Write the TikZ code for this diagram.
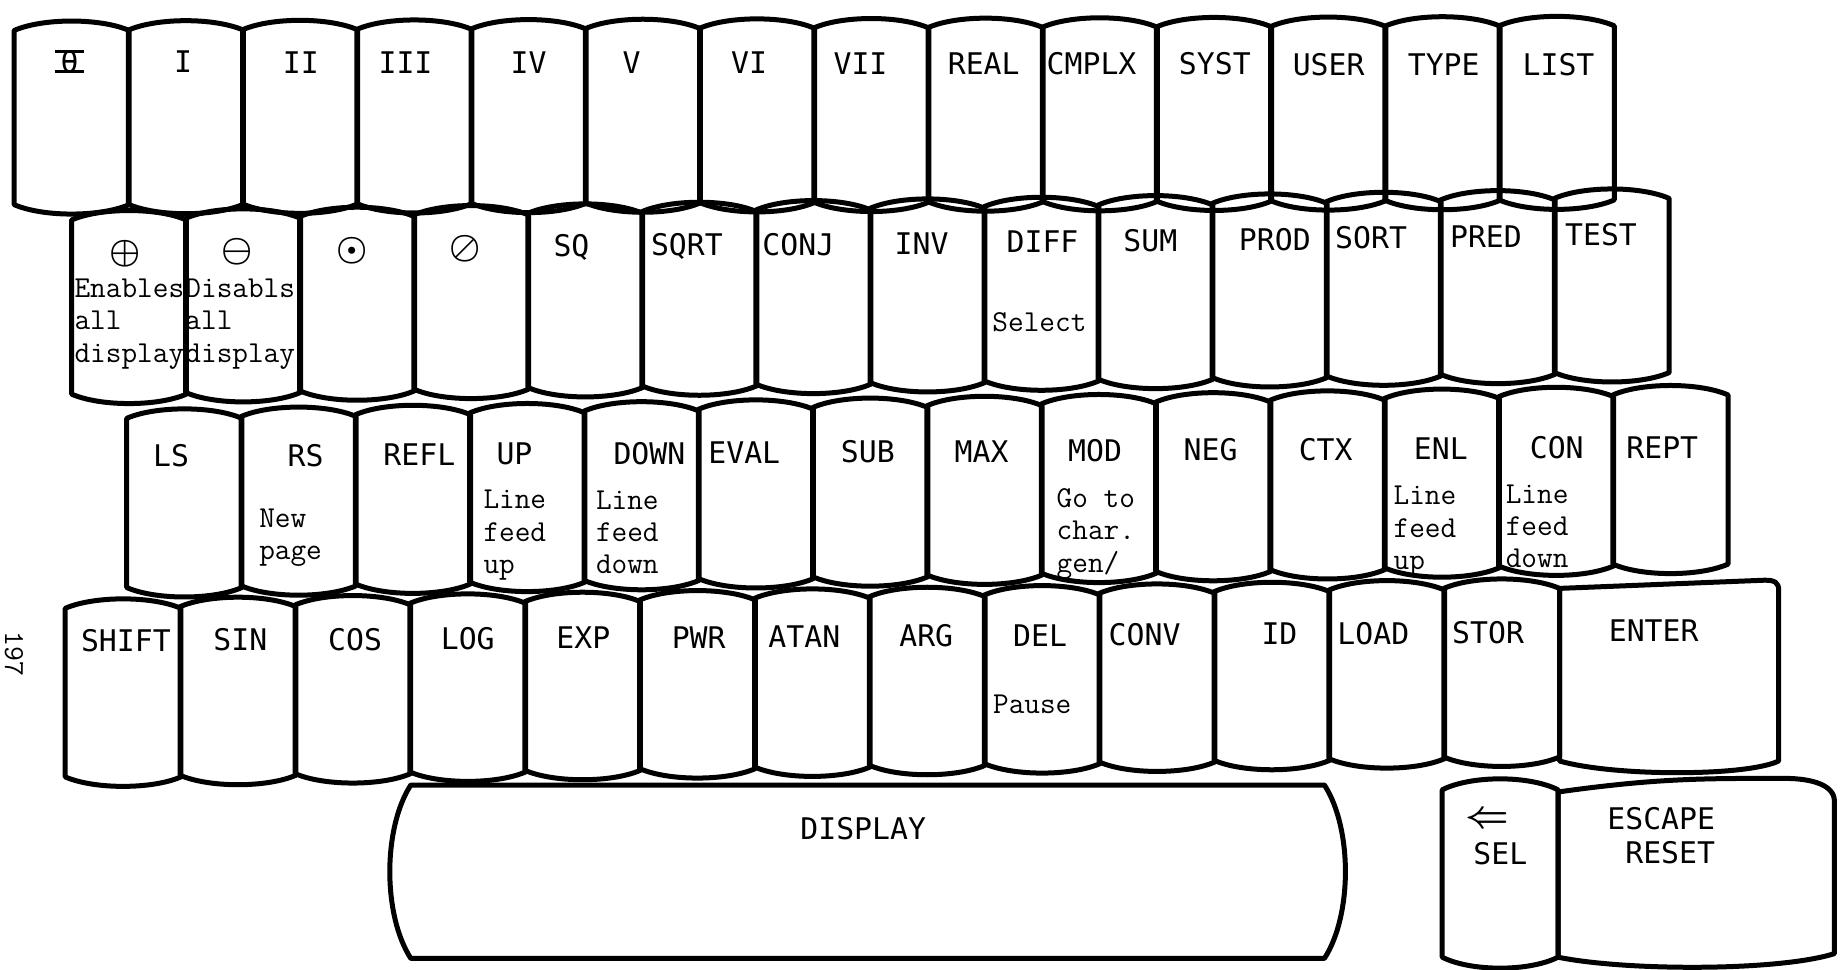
\RequirePackage{fix-cm}
\documentclass[tikz,border=0pt]{standalone}
\usepackage{fontspec}
\newfontfamily\keyfont{DejaVu Sans Mono}
\usetikzlibrary{calc}

% outline of one key: straight sides, top and bottom bowed out
\newcommand{\keyoutline}[2][6.3pt]{%
  \draw[keyline] (#2.north west) -- (#2.south west)
    .. controls ($(#2.south west)!0.25!(#2.south east)+(0,-#1)$)
            and ($(#2.south west)!0.75!(#2.south east)+(0,-#1)$) .. (#2.south east)
    -- (#2.north east)
    .. controls ($(#2.north west)!0.75!(#2.north east)+(0,#1)$)
            and ($(#2.north west)!0.25!(#2.north east)+(0,#1)$) .. cycle;}
% symbol on the first register key
\newcommand{\zerosym}{\ooalign{\hfil θ\hfil\cr
  \rule[-0.02em]{1.0em}{0.1em}\cr\rule[0.66em]{1.0em}{0.1em}}}
% circled operator symbols
\newcommand{\circsym}[1]{{\fontsize{17.5}{18}\selectfont\boldmath$#1$}}

\begin{document}
\begin{tikzpicture}[x=1pt, y=1pt,
  keyline/.style={line width=2.5pt, line join=round},
  keycap/.style={rectangle, inner sep=0pt, anchor=north west},
  rowone/.style={keycap, minimum width=57.12pt, minimum height=86.66pt},
  rowtwo/.style={keycap, minimum width=57.03pt, minimum height=86.66pt},
  rowthree/.style={keycap, minimum width=57.16pt, minimum height=84.2pt},
  rowfour/.style={keycap, minimum width=57.44pt, minimum height=83.9pt},
  keylabel/.style={font=\keyfont\fontsize{14.9}{16.7}\selectfont,
    inner sep=0pt, align=center},
  note/.style={font=\ttfamily\fontsize{15.2}{16.2}\selectfont,
    inner sep=0pt, align=left, anchor=north west}
]
\useasboundingbox (0,0) rectangle (920,484.5);

% row 1
\foreach \lab/\dx [count=\i from 0] in {\zerosym/-1, I/-1.4, II/0.4, III/-4.4,
    IV/0, V/-5.6, VI/-4, VII/-5.4, REAL/-0.9, CMPLX/-4.1, SYST/0.4, USER/0.2,
    TYPE/0.6, LIST/0.9}{
  \node[rowone] (k1-\i) at ({7.04+57.12*\i}, {469.25+0.18*\i}) {};
  \keyoutline{k1-\i}
  \node[keylabel] (t1-\i) at ([xshift=\dx, yshift={-15.6-0.3*\i}]k1-\i.north) {\lab};
}

% row 2
\foreach \lab/\dx [count=\i from 0] in {\circsym\oplus/-2.1, \circsym\ominus/-2.8,
    \circsym\odot/-2.5, \circsym\oslash/-3.2, SQ/-6.9, SQRT/-6.2, CONJ/-7.5, INV/-2.9,
    DIFF/0.5, SUM/-2.6, PROD/2.6, SORT/-6.3, PRED/-5.9, TEST/-5.4}{
  \node[rowtwo] (k2-\i) at ({35.79+57.03*\i}, {374.5+0.83*\i}) {};
  \keyoutline{k2-\i}
  \node[keylabel] (t2-\i) at ([xshift=\dx, yshift={-16.7-0.12*\i}]k2-\i.north) {\lab};
}

% row 3
\foreach \lab/\dx [count=\i from 0] in {LS/-6.6, RS/3.5, REFL/3.2, UP/-6.4,
    DOWN/3.9, EVAL/-5.8, SUB/-1.2, MAX/-1.5, MOD/-1.9, NEG/-1.3, CTX/-0.9,
    ENL/-0.5, CON/0.3, REPT/-4.1}{
  \node[rowthree] (k3-\i) at ({63.37+57.16*\i}, {275.33+0.9*\i}) {};
  \keyoutline{k3-\i}
  \node[keylabel] (t3-\i) at ([xshift=\dx, yshift={-18.8-0.57*\i}]k3-\i.north) {\lab};
}

% row 4
\foreach \lab/\dx [count=\i from 0] in {SHIFT/1.4, SIN/1.2, COS/1.1, LOG/0,
    EXP/0.4, PWR/0.6, ATAN/-4, ARG/-0.5, DEL/-1, CONV/-6.2, ID/3.8,
    LOAD/-6.7, STOR/-6.8}{
  \node[rowfour] (k4-\i) at ({32.62+57.44*\i}, {180.34+0.83*\i}) {};
  \keyoutline{k4-\i}
  \node[keylabel] (t4-\i) at ([xshift=\dx, yshift={-16.2-0.49*\i}]k4-\i.north) {\lab};
}

% ENTER
\node[keycap, minimum width=109.2pt, minimum height=85.9pt] (enter) at (k4-12.north east) {};
\draw[keyline] (enter.north west) -- (enter.south west)
  .. controls ($(enter.south west)!0.25!(enter.south east)+(0,-7.8)$)
          and ($(enter.south west)!0.85!(enter.south east)+(0,-7.8)$) .. (enter.south east)
  -- ([yshift=-1]enter.north east)
  .. controls +(0,4) and +(5,0) .. ([xshift=-7, yshift=4.1]enter.north east)
  -- (enter.north west) -- cycle;
\node[keylabel] (t-enter) at ([xshift=-7.7, yshift=-21.3]enter.north) {ENTER};

% notes under the key names
\node[note] (n-enable) at ([xshift=1.3, yshift=-29.2]k2-0.north west) {Enables\\all\\display};
\node[note] (n-disable) at ([xshift=-0.3, yshift=-30]k2-1.north west) {Disabls\\all\\display};
\node[note] (n-select) at ([xshift=4, yshift=-52.5]k2-8.north west) {Select};
\node[note] (n-newpage) at ([xshift=8.9, yshift=-45.8]k3-1.north west) {New\\page};
\node[note] (n-up) at ([xshift=6.7, yshift=-38.5]k3-3.north west) {Line\\feed\\up};
\node[note] (n-down) at ([xshift=5.8, yshift=-39.5]k3-4.north west) {Line\\feed\\down};
\node[note] (n-chargen) at ([xshift=7.5, yshift=-42]k3-8.north west) {Go to\\char.\\gen/};
\node[note] (n-enlup) at ([xshift=4.5, yshift=-43.7]k3-11.north west) {Line\\feed\\up};
\node[note] (n-condown) at ([xshift=3.4, yshift=-43.7]k3-12.north west) {Line\\feed\\down};
\node[note] (n-pause) at ([xshift=4.2, yshift=-49.9]k4-8.north west) {Pause};

% bottom row: display, SEL, ESCAPE/RESET
\node[keycap, minimum width=456.4pt, minimum height=86.3pt] (display) at (205.4, 92) {};
\draw[keyline] (display.north west) -- (display.north east)
  .. controls ($(display.north east)!0.25!(display.south east)+(14,0)$)
          and ($(display.north east)!0.75!(display.south east)+(14,0)$) .. (display.south east)
  -- (display.south west)
  .. controls ($(display.south west)!0.25!(display.north west)+(-14,0)$)
          and ($(display.south west)!0.75!(display.north west)+(-14,0)$) .. cycle;
\node[keylabel] (t-display) at ([xshift=-2.2, yshift=-21.7]display.north) {DISPLAY};

\node[keycap, minimum width=57.5pt, minimum height=83.3pt] (sel) at (721.1, 89.6) {};
\keyoutline[7.3pt]{sel}
\node[keylabel, font=\fontsize{19}{19}\selectfont\boldmath] (t-arrow) at ([xshift=-6.2, yshift=-15.1]sel.north) {$\Leftarrow$};
\node[keylabel] (t-sel) at ([xshift=0.1, yshift=-31.8]sel.north) {SEL};

\node[keycap, minimum width=137.8pt, minimum height=82.2pt] (escape) at ([yshift=-1.1]sel.north east) {};
\draw[keyline] (escape.north west) -- (escape.south west)
  .. controls ($(escape.south west)!0.25!(escape.south east)+(0,-7)$)
          and ($(escape.south west)!0.8!(escape.south east)+(0,-7)$) .. ([yshift=1.8]escape.south east)
  -- ([yshift=-4.6]escape.north east)
  .. controls +(0,8) and +(14,0) .. ([xshift=-25, yshift=6.8]escape.north east)
  .. controls +(-40,0) and +(50,7) .. (escape.north west) -- cycle;
\node[keylabel, align=right, anchor=east] (t-escape) at ([xshift=-59.5, yshift=-21.9]escape.north east) {ESCAPE\\RESET};

% page number
\node[font=\ttfamily\fontsize{14.5}{14.5}\selectfont, rotate=-90, inner sep=0pt] (pagenum) at (7, 157.7) {197};
\end{tikzpicture}
\end{document}
